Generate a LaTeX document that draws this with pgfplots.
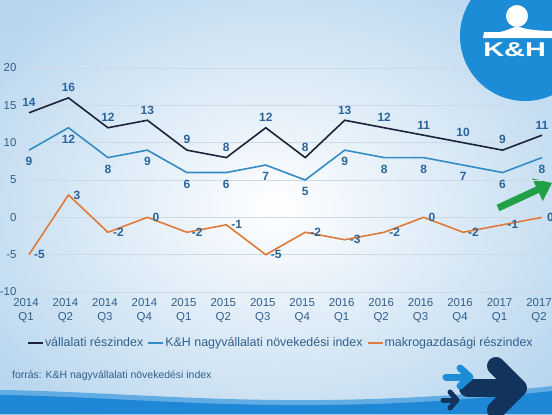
\documentclass[border=0pt]{standalone}
\usepackage{pgfplots}
\pgfplotsset{compat=1.18}
\usepackage{fontspec}
\setmainfont{Liberation Sans}
\usetikzlibrary{arrows.meta}
\definecolor{darkline}{RGB}{27,36,56}
\definecolor{lightline}{RGB}{52,140,196}
\definecolor{orangeline}{RGB}{224,122,58}
\definecolor{lblblue}{RGB}{42,100,155}
\definecolor{tickblue}{RGB}{50,95,140}
\definecolor{gridc}{RGB}{205,217,228}
\definecolor{logoblue}{RGB}{28,140,214}
\definecolor{navyarrow}{RGB}{18,52,92}
\definecolor{bandblue}{RGB}{30,136,214}
\definecolor{greenarrow}{RGB}{34,160,72}

\pgfplotstableread{
x dark light macro
0 14 9 -5
1 16 12 3
2 12 8 -2
3 13 9 0
4 9 6 -2
5 8 6 -1
6 12 7 -5
7 8 5 -2
8 13 9 -3
9 12 8 -2
10 11 8 0
11 10 7 -2
12 9 6 -1
13 11 8 0
}\datatable

\begin{document}
\begin{tikzpicture}[x=1bp,y=1bp]
\path[use as bounding box] (0,0) rectangle (552,414);
\clip (0,0) rectangle (552,414);
% background
\shade[inner color=white, outer color={rgb,255:red,184;green,214;blue,238}] (-80,-60) rectangle (632,474);
% bottom band
\fill[bandblue!70!white] (0,24) .. controls (150,22) and (300,0) .. (552,28) -- (552,0) -- (0,0) -- cycle;
\fill[bandblue] (0,19) .. controls (150,17) and (300,-5) .. (552,23) -- (552,0) -- (0,0) -- cycle;
% green arrow
\draw[greenarrow, line width=7bp, -{Triangle[length=16bp,width=24bp]}] (498,206) -- (552,231);
% arrows bottom right
\draw[navyarrow, line width=18bp, line cap=round, line join=round] (468,26) -- (516,26);
\draw[navyarrow, line width=18bp, line cap=round, line join=round] (496,48) -- (518,26) -- (496,4);
\draw[logoblue, line width=7bp, line cap=round, line join=round] (446,37) -- (468,37);
\draw[logoblue, line width=7bp, line cap=round, line join=round] (460,46) -- (470,37) -- (460,28);
\draw[navyarrow, line width=5bp, line cap=round, line join=round] (443,14) -- (456,14);
\draw[navyarrow, line width=5bp, line cap=round, line join=round] (450,22) -- (457,14) -- (450,6);
% source text
\node[anchor=west, text=tickblue, font=\fontsize{10.5}{12}\selectfont, inner sep=0] at (12,38) {forrás: K\&H nagyvállalati növekedési index};
\begin{axis}[
  at={(29bp,122bp)}, anchor=south west,
  scale only axis, width=513bp, height=224bp,
  xmin=0, xmax=13, ymin=-10, ymax=20,
  axis line style={draw=none},
  tick style={draw=none},
  clip=false,
  ymajorgrids, grid style={gridc, line width=0.8bp},
  ytick={-10,-5,...,20},
  xtick={0,...,13},
  xticklabels={{2014\\Q1},{2014\\Q2},{2014\\Q3},{2014\\Q4},{2015\\Q1},{2015\\Q2},{2015\\Q3},{2015\\Q4},{2016\\Q1},{2016\\Q2},{2016\\Q3},{2016\\Q4},{2017\\Q1},{2017\\Q2}},
  x tick label style={align=center, font=\fontsize{11.5}{14}\selectfont, text=tickblue, yshift=-3bp, xshift=-3bp},
  y tick label style={font=\fontsize{11.5}{14}\selectfont, text=tickblue, xshift=-9bp},
  /pgf/number format/assume math mode=true,
  legend columns=-1,
  legend style={at={(0.49,-0.228)}, anchor=center, draw=none, fill=none,
    font=\fontsize{12.5}{14}\selectfont, text=tickblue,
    /tikz/every even column/.append style={column sep=3bp},
    nodes={inner xsep=1bp}},
  legend image code/.code={\draw[#1, line width=2bp] (0bp,0bp) -- (15bp,0bp);},
  every node near coord/.append style={font=\bfseries\fontsize{12}{14}\selectfont, text=lblblue},
]
\addplot[darkline, line width=1.6bp, nodes near coords, every node near coord/.append style={anchor=south, yshift=2bp}] table[x=x,y=dark] {\datatable};
\addplot[lightline, line width=1.6bp, nodes near coords, every node near coord/.append style={anchor=north, yshift=-3bp}] table[x=x,y=light] {\datatable};
\addplot[orangeline, line width=1.6bp, nodes near coords, every node near coord/.append style={anchor=west, xshift=1bp}] table[x=x,y=macro] {\datatable};
\legend{vállalati részindex, K\&H nagyvállalati növekedési index, makrogazdasági részindex}
\end{axis}
% logo (drawn over the grid)
\fill[logoblue] (525,378) circle (65);
\fill[white] (517,398) circle (11);
\fill[white] (483,376) -- (484,382) -- (500,382) .. controls (508,384) and (512,386) .. (517,388) .. controls (522,386) and (530,383) .. (556,383) -- (556,376) -- cycle;
\node[text=white, font=\bfseries\fontsize{20}{20}\selectfont, anchor=west, xscale=1.45, inner sep=0] at (483,364) {K\&H};
\end{tikzpicture}
\end{document}
